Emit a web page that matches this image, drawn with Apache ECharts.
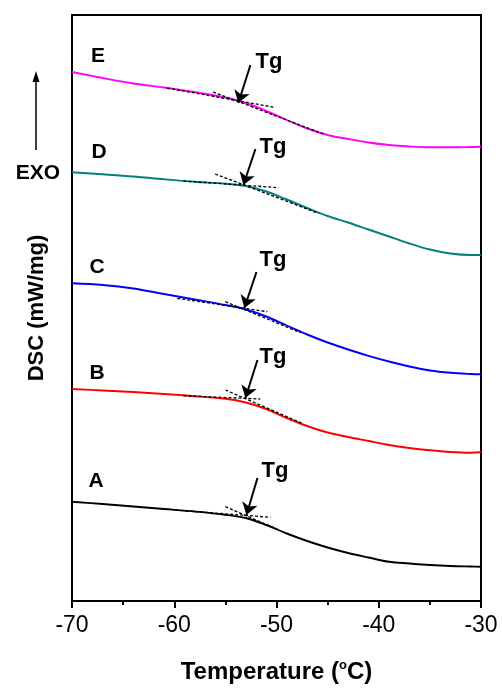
<!DOCTYPE html>
<html>
<head>
<meta charset="utf-8">
<script src="https://cdn.jsdelivr.net/npm/echarts@6/dist/echarts.min.js"></script>
<style>
html,body{margin:0;padding:0;background:#fff;}
#chart{width:502px;height:691px;}
</style>
</head>
<body>
<div id="chart"></div>
<script>
// Temperature grid (°C)
var temps = [-70, -67, -64, -61, -58, -55, -53, -51, -49, -47, -45, -43, -41, -39, -37, -35, -33, -31, -30];
// DSC traces (arbitrary offset units, exo up)
var seriesE = [5.29, 5.23, 5.175, 5.135, 5.09, 5.035, 4.98, 4.90, 4.81, 4.725, 4.66, 4.62, 4.585, 4.56, 4.545, 4.537, 4.537, 4.54, 4.543];
var seriesD = [4.287, 4.267, 4.245, 4.217, 4.192, 4.173, 4.15, 4.095, 4.015, 3.93, 3.85, 3.785, 3.715, 3.645, 3.575, 3.515, 3.475, 3.46, 3.46];
var seriesC = [3.177, 3.16, 3.125, 3.07, 3.015, 2.96, 2.915, 2.845, 2.755, 2.665, 2.585, 2.515, 2.452, 2.395, 2.345, 2.305, 2.282, 2.27, 2.267];
var seriesB = [2.12, 2.105, 2.09, 2.07, 2.048, 2.022, 1.985, 1.92, 1.83, 1.75, 1.685, 1.64, 1.60, 1.56, 1.53, 1.507, 1.49, 1.483, 1.487];
var seriesA = [0.993, 0.97, 0.945, 0.92, 0.895, 0.863, 0.83, 0.76, 0.675, 0.60, 0.535, 0.48, 0.435, 0.392, 0.375, 0.36, 0.35, 0.345, 0.343];
var seriesNames = ['E', 'D', 'C', 'B', 'A'];
// Tangent construction lines: [[T1,v1],[T2,v2]]
var tangentBase = [
  [[-60.7, 5.13], [-50.1, 4.935]],
  [[-59.1, 4.20], [-49.8, 4.133]],
  [[-59.7, 3.027], [-50.9, 2.893]],
  [[-59.1, 2.053], [-51.6, 2.02]],
  [[-59.9, 0.91], [-50.6, 0.837]]
];
var tangentSteep = [
  [[-56.2, 5.09], [-45.4, 4.67]],
  [[-56.0, 4.27], [-45.9, 3.877]],
  [[-55.0, 2.993], [-47.65, 2.683]],
  [[-55.0, 2.11], [-47.5, 1.777]],
  [[-55.0, 0.943], [-49.9, 0.717]]
];
// Tg arrows: [tail, tip]
var tgArrows = [
  [[-52.55, 5.36], [-53.73, 4.98]],
  [[-52.06, 4.52], [-53.24, 4.16]],
  [[-51.96, 3.29], [-53.14, 2.93]],
  [[-51.86, 2.41], [-53.04, 2.03]],
  [[-51.86, 1.23], [-52.94, 0.86]]
];
var xTicks = [-70, -60, -50, -40, -30];

var colors = ['#FF00FF', '#008080', '#0000FF', '#FF0000', '#000000'];
var allSeries = [seriesE, seriesD, seriesC, seriesB, seriesA];

function pairs(vals) { return temps.map(function (t, i) { return [t, vals[i]]; }); }

var series = allSeries.map(function (vals, i) {
  return {
    name: seriesNames[i], type: 'line', data: pairs(vals), smooth: 0.35,
    showSymbol: false, lineStyle: { color: colors[i], width: 1.9 }, z: 3
  };
});
series.push({
  type: 'lines', coordinateSystem: 'cartesian2d', z: 4,
  lineStyle: { color: '#000', width: 1.3, type: [3, 2], opacity: 1 },
  data: tangentBase.concat(tangentSteep).map(function (c) { return { coords: c }; })
});
series.push({
  type: 'lines', coordinateSystem: 'cartesian2d', z: 5,
  symbol: ['none', 'arrow'], symbolSize: [6, 12],
  lineStyle: { color: '#000', width: 2, opacity: 1 },
  data: tgArrows.map(function (c) { return { coords: c }; })
});

var labelFont = 'Liberation Sans, Arial, sans-serif';
var letterPos = [[98, 56], [99, 152], [97, 267], [97, 373], [96, 481]];
var tgPos = [[269, 62], [273, 147], [273, 260], [273, 357], [275, 471]];
var graphics = [];
seriesNames.forEach(function (n, i) {
  graphics.push({ type: 'text', x: letterPos[i][0], y: letterPos[i][1],
    style: { text: n, font: 'bold 21px ' + labelFont, fill: '#000', align: 'center', verticalAlign: 'middle' } });
  graphics.push({ type: 'text', x: tgPos[i][0], y: tgPos[i][1],
    style: { text: 'Tg', font: 'bold 22px ' + labelFont, fill: '#000', align: 'center', verticalAlign: 'middle' } });
});
graphics.push({ type: 'text', x: 38, y: 173,
  style: { text: 'EXO', font: 'bold 21px ' + labelFont, fill: '#000', align: 'center', verticalAlign: 'middle' } });
graphics.push({ type: 'line', shape: { x1: 36, y1: 150, x2: 36, y2: 80 }, style: { stroke: '#000', lineWidth: 1.5 } });
graphics.push({ type: 'polygon', shape: { points: [[36, 71], [32.5, 82], [39.5, 82]] }, style: { fill: '#000' } });

var chart = echarts.init(document.getElementById('chart'));
chart.setOption({
  animation: false,
  backgroundColor: '#fff',
  grid: { left: 72, right: 21, top: 15, bottom: 90, show: true, borderColor: '#000', borderWidth: 2 },
  xAxis: {
    type: 'value', min: -70, max: -30, interval: 10,
    axisLine: { show: true, lineStyle: { color: '#000', width: 2 } },
    axisTick: { show: true, inside: false, length: 7, lineStyle: { color: '#000', width: 2 } },
    minorTick: { show: true, splitNumber: 2, length: 4, lineStyle: { color: '#000', width: 2 } },
    splitLine: { show: false },
    axisLabel: { color: '#000', fontSize: 23, fontFamily: labelFont, margin: 13,
      formatter: function (v) { return xTicks.indexOf(v) >= 0 ? String(v) : ''; } },
    name: 'Temperature ({sup|o}C)', nameLocation: 'middle', nameGap: 58,
    nameTextStyle: { color: '#000', fontSize: 24, fontWeight: 'bold', fontFamily: labelFont,
      rich: { sup: { fontSize: 13, fontWeight: 'bold', fontFamily: labelFont, verticalAlign: 'top', padding: [0, 0, 14, 0] } } }
  },
  yAxis: {
    type: 'value', min: 0, max: 5.86,
    axisLine: { show: true, lineStyle: { color: '#000', width: 2 } },
    axisTick: { show: false }, axisLabel: { show: false }, splitLine: { show: false },
    name: 'DSC (mW/mg)', nameLocation: 'middle', nameGap: 24, nameRotate: 90,
    nameTextStyle: { color: '#000', fontSize: 22, fontWeight: 'bold', fontFamily: labelFont }
  },
  series: series,
  graphic: graphics
});
</script>
</body>
</html>
